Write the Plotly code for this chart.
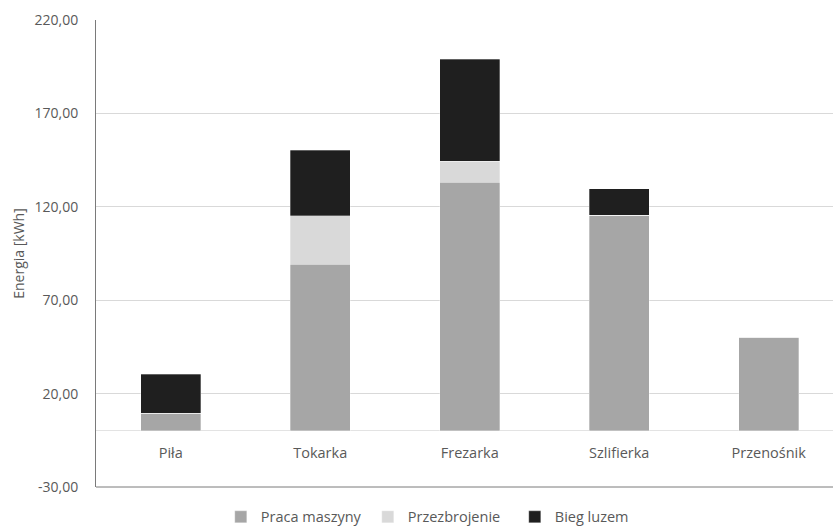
import plotly.graph_objects as go

# Energy use per machine, split by operating state
categories = ["Piła", "Tokarka", "Frezarka", "Szlifierka", "Przenośnik"]
praca_maszyny = [9.5, 89.2, 133.1, 115.1, 50.2]
przezbrojenie = [0.0, 25.9, 11.4, 0.5, 0.0]
bieg_luzem = [20.9, 35.3, 54.5, 14.0, 0.0]

y_min, y_max, y_step = -30, 220, 50
y_ticks = list(range(y_min, y_max + 1, y_step))
# Polish number format with a comma decimal separator and a plain hyphen minus
y_tick_labels = [f"{v:.2f}".replace(".", ",") for v in y_ticks]

text_color = "#595959"
font_family = "Open Sans, Noto Sans, sans-serif"

series = [
    ("Praca maszyny", praca_maszyny, "#a6a6a6"),
    ("Przezbrojenie", przezbrojenie, "#d9d9d9"),
    ("Bieg luzem", bieg_luzem, "#1f1f1f"),
]

fig = go.Figure()
for name, values, color in series:
    fig.add_trace(go.Bar(
        name=name,
        x=categories,
        y=values,
        width=0.4,
        marker=dict(color=color, line=dict(color="rgba(255,255,255,0.6)", width=0.5)),
    ))

fig.update_layout(
    barmode="stack",
    width=833,
    height=528,
    margin=dict(l=96, r=0, t=20, b=41, autoexpand=False),
    plot_bgcolor="white",
    paper_bgcolor="white",
    font=dict(family=font_family, size=14.5, color=text_color),
    legend=dict(
        orientation="h",
        x=0.4685,
        xanchor="center",
        y=-0.064,
        yanchor="middle",
        font=dict(size=14.5, color=text_color),
        itemwidth=30,
        entrywidth=102,
        traceorder="normal",
    ),
    xaxis=dict(
        range=[-0.5, 4.43],
        anchor="free",
        position=(0 - y_min) / (y_max - y_min),
        showline=False,
        showgrid=False,
        ticks="",
        ticklabelstandoff=12,
        tickfont=dict(size=14.5, color=text_color),
    ),
    yaxis=dict(
        range=[y_min, y_max],
        tickvals=y_ticks,
        ticktext=y_tick_labels,
        showgrid=True,
        gridcolor="#d9d9d9",
        gridwidth=1,
        zeroline=True,
        zerolinecolor="#e3e3e3",
        zerolinewidth=1,
        showline=True,
        linecolor="#7a7a7a",
        linewidth=1,
        ticks="",
        ticklabelstandoff=14,
        tickfont=dict(size=14, color=text_color),
        title=dict(text="Energia [kWh]", font=dict(size=14, color=text_color), standoff=6),
    ),
    shapes=[
        dict(type="line", xref="paper", yref="paper", x0=0, x1=1, y0=0, y1=0,
             line=dict(color="#7a7a7a", width=1), layer="above"),
    ],
)

fig.write_html("out.html")
